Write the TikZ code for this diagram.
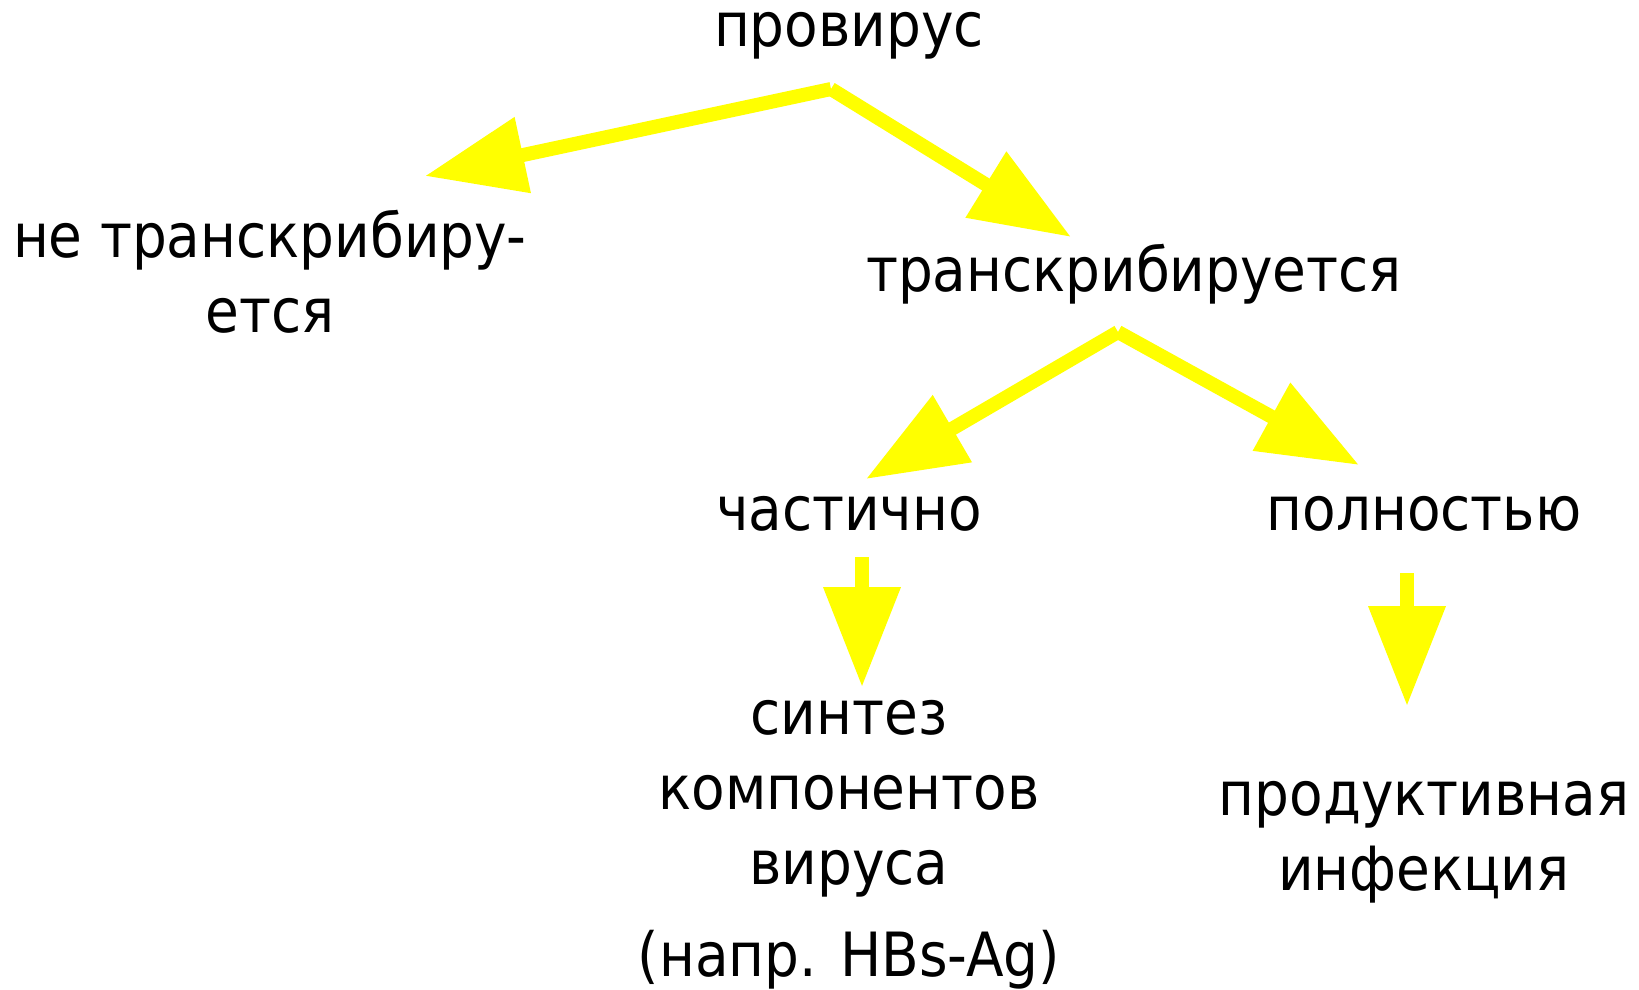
\documentclass[tikz,border=0pt]{standalone}
\usepackage{fontspec}
\setmainfont{DejaVu Sans Condensed}
\usetikzlibrary{arrows.meta}
\definecolor{arrowyellow}{RGB}{255,255,0}
\tikzset{
  lbl/.style={inner sep=0pt, align=center, font=\fontsize{61}{75}\selectfont},
  yarrow/.style={draw=arrowyellow, line width=14pt, -{Triangle[width=74pt,length=100pt]}, fill=arrowyellow},
}
\begin{document}
\begin{tikzpicture}[x=1pt,y=-1pt]
\useasboundingbox (0,0) rectangle (1639,990);
% texts
\node[lbl] (prov) at (849,36) {провирус};
\node[lbl] (ne) at (270,272) {не транскрибиру-\\ется};
\node[lbl] (tr) at (1134,274) {транскрибируется};
\node[lbl] (chast) at (849,514) {частично};
\node[lbl] (poln) at (1424,514) {полностью};
\node[lbl] (sint) at (849,845) {синтез\\компонентов\\вируса\\[17pt](напр. HBs-Ag)};
\node[lbl] (prod) at (1424,842) {продуктивная\\инфекция};
% arrow ends
\coordinate (a1) at (831,89);
\coordinate (t1) at (425,176);
\coordinate (t2) at (1071,237);
\coordinate (a2) at (1118,332);
\coordinate (t3) at (866,479);
\coordinate (t4) at (1359,465);
\coordinate (s5) at (862,557);
\coordinate (t5) at (862,687);
\coordinate (s6) at (1407,573);
\coordinate (t6) at (1407,706);
% arrows
\draw[yarrow] (a1) -- (t1);
\draw[yarrow] (a1) -- (t2);
\draw[yarrow] (a2) -- (t3);
\draw[yarrow] (a2) -- (t4);
\draw[yarrow] (s5) -- (t5);
\draw[yarrow] (s6) -- (t6);
\end{tikzpicture}
\end{document}
